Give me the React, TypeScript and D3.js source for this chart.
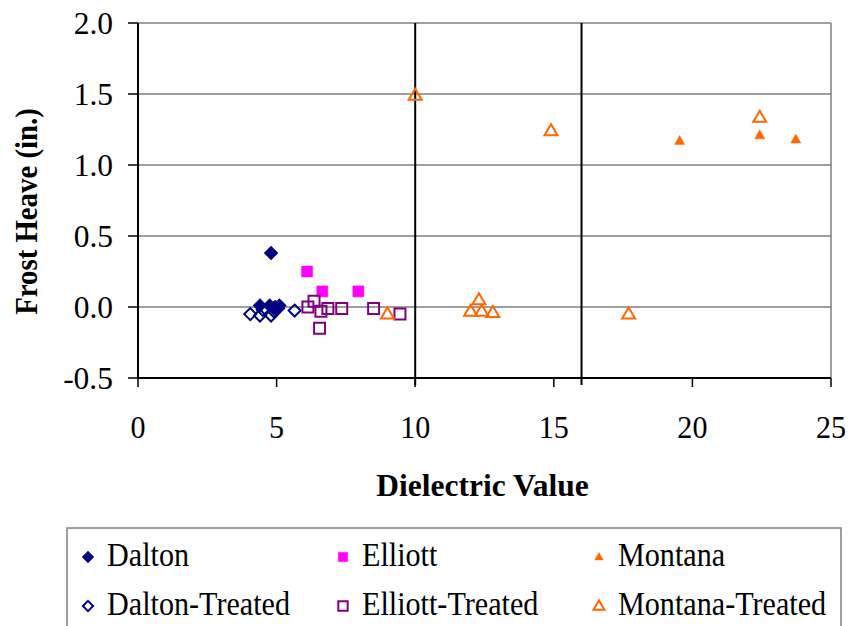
import React from "react";
import * as d3 from "d3";

type Pt = [number, number];

const dalton: Pt[] = [[4.8, 0.38], [4.4, 0.01], [4.75, 0.01], [4.95, 0.0], [5.1, 0.01], [4.9, -0.01]];
const daltonTreated: Pt[] = [[4.05, -0.05], [4.4, -0.06], [4.8, -0.06], [4.9, -0.03], [5.05, -0.01], [5.65, -0.025], [4.5, -0.02]];
const elliott: Pt[] = [[6.1, 0.25], [6.65, 0.11], [7.95, 0.11]];
const elliottTreated: Pt[] = [[6.13, 0.0], [6.35, 0.04], [6.6, -0.03], [6.85, -0.01], [7.35, -0.01], [8.5, -0.01], [9.45, -0.05], [6.55, -0.15]];
const montana: Pt[] = [[19.54, 1.17], [22.43, 1.21], [23.73, 1.18]];
const montanaTreated: Pt[] = [[9.0, -0.05], [10.0, 1.49], [14.9, 1.24], [12.3, 0.05], [12.0, -0.03], [12.4, -0.03], [12.8, -0.04], [17.7, -0.05], [22.43, 1.335]];

const xTicks = [0, 5, 10, 15, 20, 25];
const yTicks = [-0.5, 0, 0.5, 1.0, 1.5, 2.0];
const dividers = [10, 16];

type Shape = "diamond" | "square" | "triangle";
interface Series { name: string; data: Pt[]; shape: Shape; color: string; filled: boolean; }

const series: Series[] = [
  { name: "Dalton", data: dalton, shape: "diamond", color: "#000080", filled: true },
  { name: "Dalton-Treated", data: daltonTreated, shape: "diamond", color: "#000080", filled: false },
  { name: "Elliott", data: elliott, shape: "square", color: "#FF00FF", filled: true },
  { name: "Elliott-Treated", data: elliottTreated, shape: "square", color: "#800080", filled: false },
  { name: "Montana", data: montana, shape: "triangle", color: "#FF6600", filled: true },
  { name: "Montana-Treated", data: montanaTreated, shape: "triangle", color: "#FF6600", filled: false },
];

const W = 851, H = 626;
const M = { left: 138, right: 831, top: 23, bottom: 378 };
const FONT = "'Liberation Serif', 'Times New Roman', serif";

const x = d3.scaleLinear().domain([0, 25]).range([M.left, M.right]);
const y = d3.scaleLinear().domain([-0.5, 2.0]).range([M.bottom, M.top]);
const fmtY = (v: number) => d3.format(".1f")(v).replace("\u2212", "-");

function markerPath(shape: Shape, filled: boolean): string {
  if (shape === "diamond") {
    const r = filled ? 7 : 6;
    return `M0,${-r}L${r},0L0,${r}L${-r},0Z`;
  }
  if (shape === "square") {
    const r = 5.5;
    return `M${-r},${-r}H${r}V${r}H${-r}Z`;
  }
  const w = filled ? 5 : 6.5;
  const h = filled ? 9 : 11;
  return `M0,${-h * 0.6}L${w},${h * 0.4}L${-w},${h * 0.4}Z`;
}

function Marker({ s, cx, cy, scale = 1 }: { s: Series; cx: number; cy: number; scale?: number }) {
  return (
    <path
      d={markerPath(s.shape, s.filled)}
      transform={`translate(${cx},${cy}) scale(${scale})`}
      fill={s.filled ? s.color : "none"}
      stroke={s.color}
      strokeWidth={s.filled ? 0.5 : 2 / scale}
    />
  );
}

function SText({ x: tx, y: ty, size, sx = 1, anchor = "start", weight = "normal", rotate = 0, children }: any) {
  return (
    <text
      transform={`translate(${tx},${ty}) rotate(${rotate}) scale(${sx},1)`}
      fontFamily={FONT}
      fontSize={size}
      fontWeight={weight}
      textAnchor={anchor}
      fill="#000"
    >
      {children}
    </text>
  );
}

export default function App() {
  const legendCols = [88, 343, 599];
  const legendRows = [557, 606];
  return (
    <svg width={W} height={H} style={{ position: "absolute", left: 0, top: 0, background: "#fff" }}>
      <rect width={W} height={H} fill="#fff" />
      {/* gridlines */}
      {yTicks.filter((t) => t > -0.5).map((t) => (
        <line key={t} x1={M.left} x2={M.right} y1={y(t)} y2={y(t)} stroke="#7f7f7f" strokeWidth={1.5} />
      ))}
      {/* right border */}
      <line x1={M.right} x2={M.right} y1={M.top} y2={M.bottom} stroke="#7f7f7f" strokeWidth={1.5} />
      {/* divider lines */}
      {dividers.map((d) => (
        <line key={d} x1={x(d)} x2={x(d)} y1={y(2.0)} y2={M.bottom + 7} stroke="#000" strokeWidth={2} />
      ))}
      {/* axes */}
      <line x1={M.left} x2={M.left} y1={M.top} y2={M.bottom} stroke="#000" strokeWidth={2} />
      <line x1={M.left} x2={M.right} y1={M.bottom} y2={M.bottom} stroke="#000" strokeWidth={2} />
      {yTicks.map((t) => (
        <g key={t}>
          <line x1={M.left - 10} x2={M.left} y1={y(t)} y2={y(t)} stroke="#000" strokeWidth={1.5} />
          <SText x={113} y={y(t) + 11} size={31.5} anchor="end">{fmtY(t)}</SText>
        </g>
      ))}
      {xTicks.map((t) => (
        <g key={t}>
          <line x1={x(t)} x2={x(t)} y1={M.bottom} y2={M.bottom + 9} stroke="#000" strokeWidth={1.5} />
          <SText x={x(t)} y={M.bottom + 60} size={32} sx={0.94} anchor="middle">{String(t)}</SText>
        </g>
      ))}
      <SText x={482.5} y={496} size={31.5} anchor="middle" weight="bold">Dielectric Value</SText>
      <SText x={37} y={211.5} size={32} sx={0.9} anchor="middle" weight="bold" rotate={-90}>Frost Heave (in.)</SText>

      {/* points */}
      {series.map((s) => (
        <g key={s.name}>
          {s.data.map((p, i) => (
            <Marker key={i} s={s} cx={x(p[0])} cy={y(p[1])} />
          ))}
        </g>
      ))}

      {/* legend */}
      <rect x={67} y={528} width={774} height={120} fill="#fff" stroke="#7f7f7f" strokeWidth={1.5} />
      {series.map((s, i) => {
        const col = Math.floor(i / 2);
        const row = i % 2;
        const mx = legendCols[col];
        const my = legendRows[row];
        return (
          <g key={s.name}>
            <Marker s={s} cx={mx} cy={my} scale={0.85} />
            <SText x={mx + 19} y={my + 9} size={33.5} sx={0.9}>{s.name}</SText>
          </g>
        );
      })}
    </svg>
  );
}
